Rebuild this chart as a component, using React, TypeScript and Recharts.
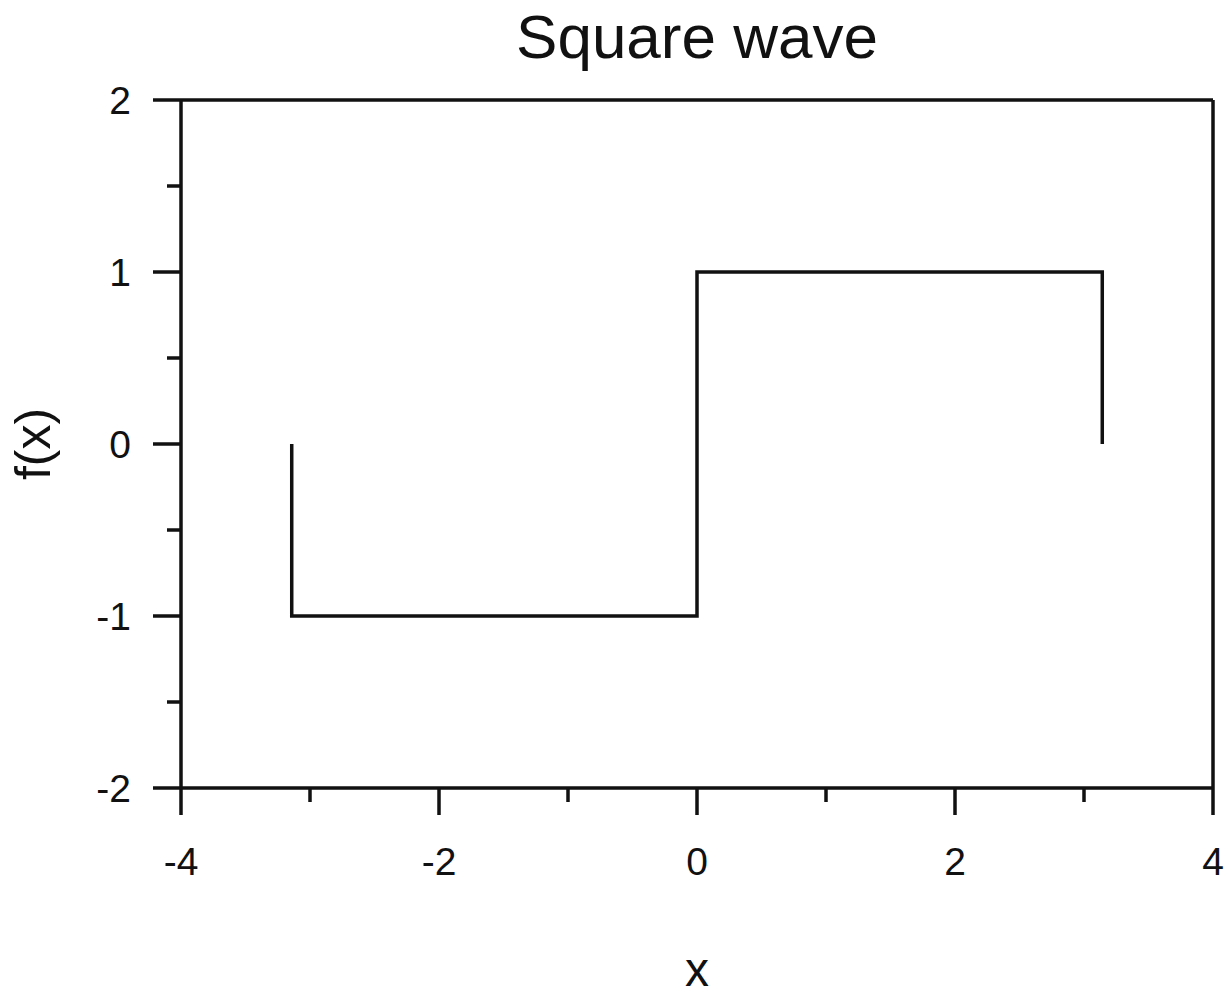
import { LineChart, Line, XAxis, YAxis, ReferenceLine, Label } from 'recharts';

// square wave over one period
const xValues = [-3.1416, -3.1416, 0, 0, 3.1416, 3.1416];
const yValues = [0, -1, -1, 1, 1, 0];

const xTicks = [-4, -3, -2, -1, 0, 1, 2, 3, 4];
const yTicks = [-2, -1.5, -1, -0.5, 0, 0.5, 1, 1.5, 2];

const data = xValues.map((x, i) => ({ x, y: yValues[i] }));

const INK = '#111';
const FONT = '"Liberation Sans", Arial, Helvetica, sans-serif';
const LW = 3.5;

const XTick = ({ x, y, payload }: any) => {
  const major = payload.value % 2 === 0;
  return (
    <g>
      <line x1={x} x2={x} y1={y} y2={y + (major ? 27 : 14)} stroke={INK} strokeWidth={LW} />
      {major && (
        <text x={x} y={y + 87} textAnchor="middle" fontSize={39} fontFamily={FONT} fill={INK}>
          {payload.value}
        </text>
      )}
    </g>
  );
};

const YTick = ({ x, y, payload }: any) => {
  const major = Number.isInteger(payload.value);
  return (
    <g>
      <line x1={x - (major ? 28 : 14)} x2={x} y1={y} y2={y} stroke={INK} strokeWidth={LW} />
      {major && (
        <text x={x - 50} y={y + 14} textAnchor="end" fontSize={39} fontFamily={FONT} fill={INK}>
          {payload.value}
        </text>
      )}
    </g>
  );
};

const App = () => {
  return (
    <div style={{ position: 'absolute', left: 0, top: 0, width: 1228, height: 997, background: '#fff' }}>
      <div
        style={{
          position: 'absolute',
          left: 181,
          width: 1032,
          top: 6,
          textAlign: 'center',
          fontFamily: FONT,
          fontSize: 62,
          lineHeight: 1,
          color: INK,
        }}
      >
        Square wave
      </div>
      <LineChart width={1228} height={997} data={data} margin={{ top: 100, right: 15, left: 0, bottom: 0 }}>
        <XAxis
          dataKey="x"
          type="number"
          domain={[-4, 4]}
          ticks={xTicks}
          allowDataOverflow
          height={209}
          tickSize={0}
          tickMargin={0}
          tickLine={false}
          axisLine={{ stroke: INK, strokeWidth: LW }}
          tick={<XTick />}
          interval={0}
        >
          <Label
            content={({ viewBox }: any) => (
              <text
                x={viewBox.x + viewBox.width / 2}
                y={viewBox.y + 198}
                textAnchor="middle"
                fontSize={48}
                fontFamily={FONT}
                fill={INK}
              >
                x
              </text>
            )}
          />
        </XAxis>
        <YAxis
          type="number"
          domain={[-2, 2]}
          ticks={yTicks}
          allowDataOverflow
          width={181}
          tickSize={0}
          tickMargin={0}
          tickLine={false}
          axisLine={{ stroke: INK, strokeWidth: LW }}
          tick={<YTick />}
          interval={0}
        >
          <Label
            content={({ viewBox }: any) => (
              <text
                x={50}
                y={viewBox.y + viewBox.height / 2}
                transform={`rotate(-90 50 ${viewBox.y + viewBox.height / 2})`}
                textAnchor="middle"
                fontSize={50}
                fontFamily={FONT}
                fill={INK}
              >
                f(x)
              </text>
            )}
          />
        </YAxis>
        <ReferenceLine y={2} stroke={INK} strokeWidth={LW} />
        <ReferenceLine x={4} stroke={INK} strokeWidth={LW} />
        <Line
          dataKey="y"
          type="linear"
          stroke={INK}
          strokeWidth={LW}
          dot={false}
          isAnimationActive={false}
        />
      </LineChart>
    </div>
  );
};

export default App;
